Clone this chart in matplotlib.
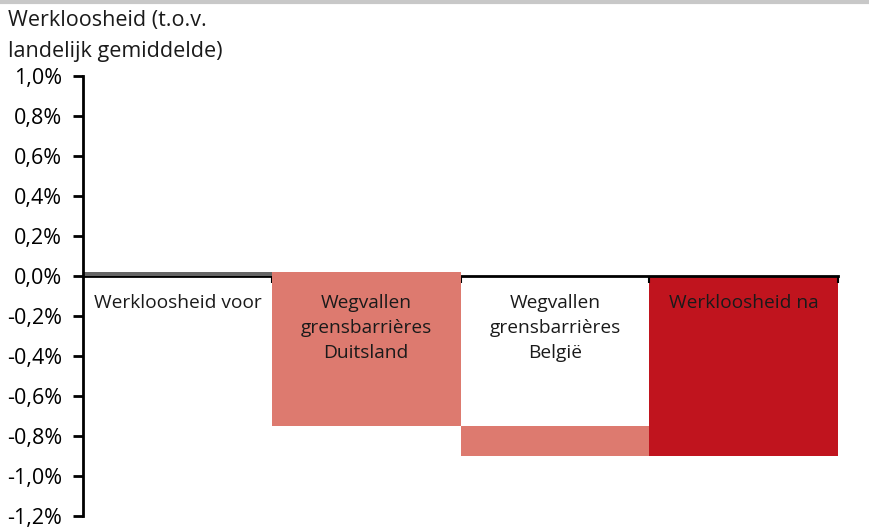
import matplotlib.pyplot as plt
import numpy as np

plt.rcParams['font.family'] = ['Open Sans', 'DejaVu Sans']

# waterfall data (% t.o.v. landelijk gemiddelde)
labels = ['Werkloosheid voor', 'Wegvallen\ngrensbarrières\nDuitsland',
          'Wegvallen\ngrensbarrières\nBelgië', 'Werkloosheid na']
start = [0.0, 0.02, -0.75, 0.0]
end = [0.02, -0.75, -0.90, -0.90]
colors = ['#666666', '#DD7A6F', '#DD7A6F', '#C0141E']
yticks = [1.0, 0.8, 0.6, 0.4, 0.2, 0.0, -0.2, -0.4, -0.6, -0.8, -1.0, -1.2]

fig = plt.figure(figsize=(8.69, 5.30), dpi=100)
ax = fig.add_axes([83 / 869, 1 - 516 / 530, (838 - 83) / 869, (516 - 76) / 530])

x = np.arange(len(labels))
heights = [e - s for s, e in zip(start, end)]
zs = [3, 3, 1, 1]
for i in range(len(labels)):
    ax.bar(x[i], heights[i], bottom=start[i], width=1.0, color=colors[i],
           zorder=zs[i], linewidth=0)
    ax.text(x[i], -0.09, labels[i], ha='center', va='top', fontsize=13.75,
            color='#1a1a1a', linespacing=1.5, zorder=5)

ax.set_xlim(-0.5, 3.5)
ax.set_ylim(-1.2, 1.0)
ax.set_yticks(yticks)
ax.set_yticklabels([('%.1f%%' % v).replace('.', ',') for v in yticks], fontsize=15.5)
ax.set_xticks([0.5, 1.5, 2.5, 3.5])
ax.set_xticklabels([])
ax.tick_params(axis='x', direction='out', length=5, width=1.5, pad=0)
ax.tick_params(axis='y', direction='out', length=7, width=2, pad=8)

for s in ['top', 'right']:
    ax.spines[s].set_visible(False)
ax.spines['bottom'].set_position(('data', 0))
ax.spines['bottom'].set_linewidth(2)
ax.spines['bottom'].set_zorder(2)
ax.spines['left'].set_linewidth(2)
ax.spines['left'].set_zorder(6)

fig.text(8 / 869, 1 - 10 / 530, 'Werkloosheid (t.o.v.\nlandelijk gemiddelde)',
         ha='left', va='top', fontsize=15.5, linespacing=1.6, color='#1a1a1a')
fig.add_artist(plt.Line2D([0, 1], [1 - 2 / 530, 1 - 2 / 530], color='#C8C8C8',
                          lw=3, transform=fig.transFigure))

fig.savefig('out.png', dpi=100)
